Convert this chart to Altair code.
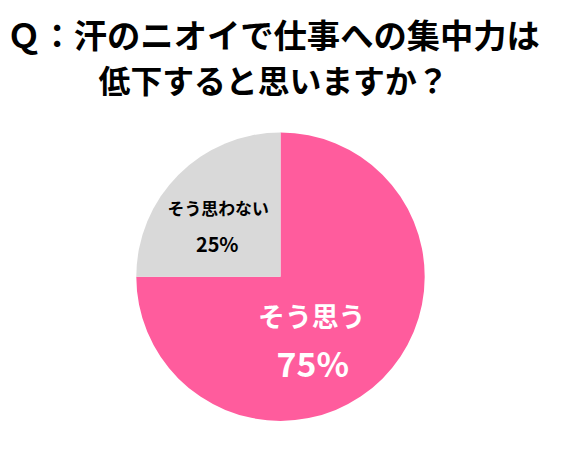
import altair as alt
import pandas as pd

categories = ["そう思う", "そう思わない"]
values = [75, 25]
pct_labels = ["75%", "25%"]
order = [1, 2]
title_line1 = "Ｑ：汗のニオイで仕事への集中力は"
title_line2 = "低下すると思いますか？"

df = pd.DataFrame({"category": categories, "value": values, "pct": pct_labels, "order": order})

FONT = "Noto Sans CJK JP"

base = alt.Chart(df).transform_joinaggregate(
    total="sum(value)"
).transform_stack(
    stack="value", groupby=[], as_=["v0", "v1"], sort=[alt.SortField("order", order="ascending")]
).transform_calculate(
    mid="(datum.v0 + datum.v1) / 2 / datum.total * 2 * PI"
)

arc = alt.Chart(df).mark_arc(outerRadius=145, stroke=None).encode(
    theta=alt.Theta("value:Q", stack=True),
    order=alt.Order("order:Q"),
    color=alt.Color("category:N", scale=alt.Scale(domain=categories, range=["#FF5C9D", "#D9D9D9"]), legend=None),
)

def txt(cat, field, r, dx, dy, size, color):
    return base.transform_filter(alt.datum.category == cat).mark_text(
        font=FONT, fontWeight="bold", fontSize=size, color=color, dx=dx, dy=dy,
        align="center", baseline="middle"
    ).encode(
        theta=alt.Theta("mid:Q", scale=None),
        radius=alt.value(r),
        text=alt.Text(field),
    )

t1 = txt("そう思う", "category:N", 60, -11, 0, 27, "white")
t2 = txt("そう思う", "pct:N", 60, -10, 48, 34, "white")
t3 = txt("そう思わない", "category:N", 90, 1, -3, 17, "black")
t4 = txt("そう思わない", "pct:N", 90, 0, 33, 20, "black")

chart = alt.layer(arc, t1, t2, t3, t4).properties(
    width=548, height=298,
    autosize=alt.AutoSizeParams(type="none"),
    padding={"left": 0, "top": 120, "right": 0, "bottom": 0},
    title=alt.TitleParams(title_line1, subtitle=title_line2,
                          fontSize=33.5, fontWeight="bold", font=FONT, color="black",
                          subtitleFontSize=32, subtitleFontWeight="bold", subtitleFont=FONT,
                          subtitleColor="black", subtitlePadding=12,
                          anchor="middle", offset=29, dx=-7),
).configure_view(stroke=None)

chart.save("out.html", embed_options={"renderer": "svg", "actions": False})
